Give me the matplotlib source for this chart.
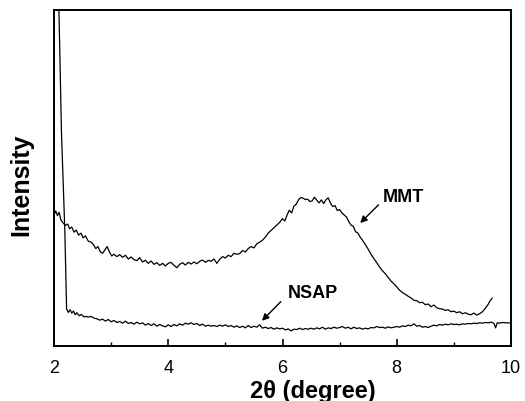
import matplotlib
matplotlib.use("Agg")
import matplotlib.pyplot as plt
from matplotlib.ticker import MultipleLocator

plt.rcParams['font.family'] = ['Liberation Sans', 'DejaVu Sans']

# MMT pattern (2theta, relative intensity)
mmt_x = [2.00, 2.03, 2.06, 2.09, 2.12, 2.16, 2.20, 2.24, 2.27, 2.31, 2.35, 2.39, 2.43, 2.47,
         2.51, 2.55, 2.60, 2.65, 2.69, 2.73, 2.77, 2.81, 2.85, 2.89, 2.93, 2.97, 3.01, 3.05,
         3.10, 3.15, 3.20, 3.25, 3.30, 3.35, 3.40, 3.45, 3.50, 3.55, 3.60, 3.65, 3.70, 3.75,
         3.80, 3.85, 3.90, 3.95, 4.00, 4.05, 4.10, 4.15, 4.20, 4.25, 4.30, 4.35, 4.40, 4.45,
         4.50, 4.55, 4.60, 4.65, 4.70, 4.75, 4.80, 4.85, 4.90, 4.95, 5.00, 5.05, 5.10, 5.15,
         5.20, 5.25, 5.30, 5.35, 5.40, 5.45, 5.50, 5.55, 5.60, 5.65, 5.70, 5.75, 5.80, 5.85,
         5.90, 5.95, 6.00, 6.04, 6.08, 6.12, 6.16, 6.20, 6.24, 6.28, 6.32, 6.36, 6.40, 6.44,
         6.48, 6.52, 6.56, 6.60, 6.64, 6.68, 6.72, 6.76, 6.80, 6.84, 6.88, 6.92, 6.96, 7.00,
         7.04, 7.08, 7.12, 7.16, 7.20, 7.24, 7.28, 7.32, 7.36, 7.40, 7.45, 7.50, 7.55, 7.60,
         7.65, 7.70, 7.75, 7.80, 7.85, 7.90, 7.95, 8.00, 8.05, 8.10, 8.15, 8.20, 8.25, 8.30,
         8.35, 8.40, 8.45, 8.50, 8.55, 8.60, 8.65, 8.70, 8.75, 8.80, 8.85, 8.90, 8.95, 9.00,
         9.05, 9.10, 9.15, 9.20, 9.25, 9.30, 9.35, 9.40, 9.45, 9.50, 9.55, 9.60, 9.64, 9.67]
mmt_y = [39.0, 40.2, 38.8, 39.8, 37.5, 36.6, 35.9, 36.3, 34.9, 35.4, 33.9, 34.5, 33.0, 33.6,
         32.2, 32.8, 31.2, 30.9, 30.2, 29.0, 29.6, 28.0, 27.6, 28.6, 29.6, 28.0, 26.8, 27.3,
         26.6, 27.2, 26.4, 27.0, 25.9, 26.5, 25.7, 25.4, 26.3, 25.0, 25.5, 24.6, 25.3, 24.3,
         24.8, 24.0, 24.6, 23.8, 24.6, 24.9, 24.0, 23.3, 24.3, 24.8, 24.1, 24.9, 24.4, 25.0,
         24.5, 25.2, 25.6, 24.9, 25.5, 25.2, 25.9, 24.6, 25.8, 26.6, 26.2, 27.0, 26.6, 27.6,
         27.3, 27.5, 28.4, 28.0, 29.0, 29.6, 29.2, 30.4, 30.9, 31.5, 32.4, 33.6, 34.4, 35.2,
         36.0, 36.8, 37.9, 37.2, 39.0, 40.4, 39.6, 41.6, 42.2, 43.5, 44.2, 44.0, 43.6, 43.7,
         43.0, 43.2, 44.3, 43.4, 42.6, 43.5, 42.4, 43.5, 44.1, 42.5, 41.5, 41.8, 40.3, 40.6,
         39.6, 39.0, 38.4, 37.0, 36.0, 35.6, 34.0, 33.6, 32.4, 31.5, 30.2, 28.8, 27.3, 26.0,
         24.8, 23.5, 22.4, 21.5, 20.4, 19.3, 18.5, 17.6, 16.6, 15.9, 15.4, 14.8, 14.3, 13.6,
         13.5, 12.9, 13.0, 12.3, 12.5, 11.7, 12.2, 11.4, 11.1, 11.0, 10.6, 10.8, 10.2, 10.4,
         9.9, 10.2, 9.6, 9.9, 9.5, 9.3, 9.8, 9.2, 9.6, 10.2, 11.2, 12.4, 13.6, 14.2]

# NSAP pattern
nsap_x = [2.08, 2.13, 2.19, 2.22, 2.25, 2.28, 2.31, 2.34, 2.37, 2.40, 2.44, 2.48, 2.52, 2.56,
          2.60, 2.65, 2.70, 2.75, 2.80, 2.85, 2.90, 2.95, 3.00, 3.05, 3.10, 3.15, 3.20, 3.25,
          3.30, 3.35, 3.40, 3.45, 3.50, 3.55, 3.60, 3.65, 3.70, 3.75, 3.80, 3.85, 3.90, 3.95,
          4.00, 4.05, 4.10, 4.15, 4.20, 4.25, 4.30, 4.35, 4.40, 4.45, 4.50, 4.55, 4.60, 4.65,
          4.70, 4.75, 4.80, 4.85, 4.90, 4.95, 5.00, 5.05, 5.10, 5.15, 5.20, 5.25, 5.30, 5.35,
          5.40, 5.45, 5.50, 5.55, 5.60, 5.65, 5.70, 5.75, 5.80, 5.85, 5.90, 5.95, 6.00, 6.05,
          6.10, 6.15, 6.20, 6.25, 6.30, 6.35, 6.40, 6.45, 6.50, 6.55, 6.60, 6.65, 6.70, 6.75,
          6.80, 6.85, 6.90, 6.95, 7.00, 7.05, 7.10, 7.15, 7.20, 7.25, 7.30, 7.35, 7.40, 7.45,
          7.50, 7.55, 7.60, 7.65, 7.70, 7.75, 7.80, 7.85, 7.90, 7.95, 8.00, 8.05, 8.10, 8.15,
          8.20, 8.25, 8.30, 8.35, 8.40, 8.45, 8.50, 8.55, 8.60, 8.65, 8.70, 8.75, 8.80, 8.85,
          8.90, 8.95, 9.00, 9.05, 9.10, 9.15, 9.20, 9.25, 9.30, 9.35, 9.40, 9.45, 9.50, 9.55,
          9.60, 9.65, 9.70, 9.73, 9.76, 9.80, 9.85, 9.90, 9.95, 10.00]
nsap_y = [105.0, 63.7, 33.9, 11.0, 10.0, 10.8, 9.8, 10.4, 9.3, 9.9, 9.0, 9.4, 8.7, 8.8,
          8.6, 8.8, 8.3, 8.1, 7.7, 8.0, 7.4, 7.9, 7.2, 7.6, 7.0, 7.3, 6.8, 7.4,
          6.7, 7.0, 6.5, 7.1, 6.6, 6.9, 6.2, 6.7, 6.1, 6.6, 5.9, 6.4, 6.0, 5.7,
          6.3, 5.8, 6.4, 6.0, 6.6, 6.2, 6.8, 6.5, 6.9, 6.4, 6.7, 6.1, 6.5, 5.9,
          6.2, 5.9, 6.1, 5.8, 6.2, 5.9, 6.3, 5.8, 6.1, 5.6, 6.0, 5.5, 5.9, 5.4,
          6.1, 5.5, 5.9, 5.6, 6.3, 5.3, 5.6, 5.2, 5.5, 5.0, 5.4, 5.1, 5.3, 4.8,
          5.1, 4.5, 5.0, 4.9, 5.3, 4.9, 5.2, 5.0, 5.3, 5.0, 5.4, 5.1, 5.6, 5.0,
          5.4, 5.2, 5.6, 5.3, 5.5, 5.8, 5.3, 5.6, 5.1, 5.6, 5.2, 5.4, 5.0, 5.3,
          5.1, 5.5, 5.4, 5.8, 5.5, 5.6, 5.3, 5.7, 5.4, 5.6, 5.8, 5.6, 6.0, 5.8,
          6.2, 6.0, 6.6, 5.9, 6.1, 5.6, 5.8, 5.5, 5.9, 6.2, 6.0, 6.4, 6.2, 6.5,
          6.3, 6.6, 6.4, 6.5, 6.3, 6.6, 6.5, 6.7, 6.6, 6.8, 6.7, 6.9, 6.8, 7.0,
          6.9, 7.1, 6.8, 5.4, 6.9, 6.8, 7.0, 6.9, 6.9, 6.8]

x_ticks = [2, 4, 6, 8, 10]

fig = plt.figure(figsize=(5.25, 4.02), dpi=100)
ax = fig.add_axes([0.1029, 0.1368, 0.8704, 0.8358])

ax.plot(mmt_x, mmt_y, color='black', lw=0.9)
ax.plot(nsap_x, nsap_y, color='black', lw=0.9)

ax.set_xlim(2, 10)
ax.set_ylim(0, 100)
ax.set_xticks(x_ticks)
ax.set_xticklabels([str(t) for t in x_ticks])
ax.xaxis.set_minor_locator(MultipleLocator(1))
ax.tick_params(axis='x', which='major', direction='in', length=5, width=1.2,
               labelsize=13, pad=9)
ax.tick_params(axis='x', which='minor', direction='in', length=3, width=1.0)
ax.set_yticks([])
for s in ax.spines.values():
    s.set_linewidth(1.4)

ax.set_xlabel('2θ (degree)', fontsize=17, fontweight='bold')
ax.xaxis.set_label_coords(0.567, -0.097)
ax.set_ylabel('Intensity', fontsize=18, fontweight='bold')
ax.yaxis.set_label_coords(-0.046, 0.482)

arrow = dict(arrowstyle='-|>', color='black', lw=1.0, mutation_scale=10,
             shrinkA=0, shrinkB=0)
ax.annotate('', xy=(7.36, 36.6), xytext=(7.68, 42.0), arrowprops=arrow)
ax.text(7.75, 44.4, 'MMT', fontsize=13, fontweight='bold', ha='left', va='center')
ax.annotate('', xy=(5.64, 7.5), xytext=(5.97, 13.2), arrowprops=arrow)
ax.text(6.54, 16.0, 'NSAP', fontsize=13, fontweight='bold', ha='center', va='center')

fig.savefig('out.png', dpi=100)
